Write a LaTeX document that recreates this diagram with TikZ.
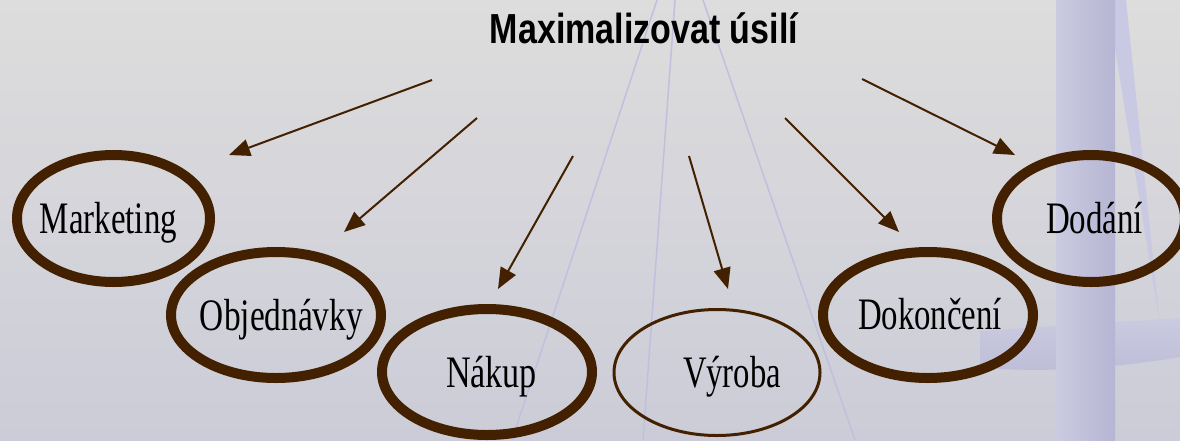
\documentclass[tikz,border=0pt]{standalone}
\usepackage{fontspec}
\usepackage{graphicx}
\setmainfont{Liberation Serif}
\newfontfamily\titlefont{Liberation Sans}
\usetikzlibrary{shapes.geometric,arrows.meta}
\definecolor{bgtop}{RGB}{221,221,221}
\definecolor{bgbot}{RGB}{204,204,216}
\definecolor{lav}{RGB}{192,192,222}
\definecolor{colL}{RGB}{202,202,224}
\definecolor{colR}{RGB}{182,182,212}
\definecolor{brn}{RGB}{66,32,0}
\newcommand{\sqz}[2]{\resizebox{#1}{\height}{#2}}
\tikzset{
  ell/.style={ellipse, draw=brn, line width=10pt, inner sep=0pt, minimum width=210pt, minimum height=126pt},
  thinell/.style={ellipse, draw=brn, line width=3pt, inner sep=0pt},
  lbl/.style={anchor=base, inner sep=0pt, font=\fontsize{45}{50}\selectfont},
  ttl/.style={anchor=base, inner sep=0pt, font=\titlefont\bfseries\fontsize{42}{48}\selectfont},
  arr/.style={draw=brn, line width=2pt, -{Triangle[length=21pt,width=17pt]}, fill=brn},
  deco/.style={draw=lav, line width=1.5pt}
}
\begin{document}
\begin{tikzpicture}[x=1pt,y=-1pt]
\useasboundingbox (0,0) rectangle (1180,440);
\shade[top color=bgtop, bottom color=bgbot] (0,0) rectangle (1180,440);
% decorative lines
\draw[deco] (657,0) -- (512,440);
\draw[deco] (675,0) -- (643,440);
\draw[deco] (703,0) -- (855,440);
% right decoration
\fill[lav!85!white] (1107,0) -- (1126,0) -- (1160,325) -- cycle;
\shade[top color=colL, bottom color=colR!90!white] (980,331) -- (1180,318) -- (1180,357) .. controls (1120,367) and (1060,372) .. (1000,369) -- (980,366) -- cycle;
\shade[left color=colL, right color=colR] (1056,0) rectangle (1115,440);
% title
\node[ttl] (title) at (644,43) {\sqz{308pt}{Maximalizovat úsilí}};
% ellipses
\node[ell, minimum width=193pt, minimum height=127pt] (mk) at (113.5,218.5) {};
\node[ell] (ob) at (276,315) {};
\node[ell] (na) at (487,372) {};
\node[thinell, minimum width=206pt, minimum height=126pt] (vy) at (717,372.5) {};
\node[ell] (dk) at (928,315) {};
\node[ell, minimum width=188pt, minimum height=127pt] (dd) at (1091,218.5) {};
% labels
\node[lbl] (mkt) at (108.5,233) {\sqz{137pt}{Marketing}};
\node[lbl] (obt) at (281.5,330) {\sqz{163pt}{Objednávky}};
\node[lbl] (nat) at (491.5,387) {\sqz{91pt}{Nákup}};
\node[lbl] (vyt) at (732,387) {\sqz{98pt}{Výroba}};
\node[lbl] (dkt) at (930,329) {\sqz{144pt}{Dokončení}};
\node[lbl] (ddt) at (1094.5,233) {\sqz{97pt}{Dodání}};
% arrow ends
\coordinate (s1) at (432,80);  \coordinate (t1) at (229,155);
\coordinate (s2) at (477,118); \coordinate (t2) at (344,232);
\coordinate (s3) at (573,156); \coordinate (t3) at (498,289);
\coordinate (s4) at (689,156); \coordinate (t4) at (728,289);
\coordinate (s5) at (785,118); \coordinate (t5) at (899,232);
\coordinate (s6) at (862,79);  \coordinate (t6) at (1015,155);
\draw[arr] (s1) -- (t1);
\draw[arr] (s2) -- (t2);
\draw[arr] (s3) -- (t3);
\draw[arr] (s4) -- (t4);
\draw[arr] (s5) -- (t5);
\draw[arr] (s6) -- (t6);
\end{tikzpicture}
\end{document}
